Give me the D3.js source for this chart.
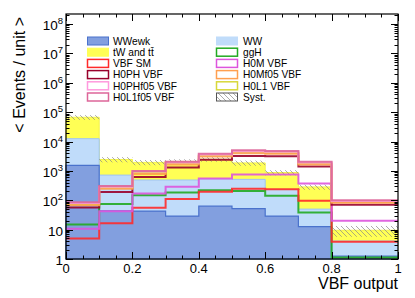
<!DOCTYPE html>
<html>
<head>
<meta charset="utf-8">
<script src="https://cdn.jsdelivr.net/npm/d3@7"></script>
<style>
  body { margin: 0; background: #fff; }
  svg { display: block; font-family: "Liberation Sans", Arial, sans-serif; }
</style>
</head>
<body>
<svg id="chart" width="415" height="298"></svg>
<script>
// bin edges of the VBF output
var edges = [0, 0.1, 0.2, 0.3, 0.4, 0.5, 0.6, 0.7, 0.8, 1.0];

// backgrounds (stacked, per bin)
var wwewk = [1550, 44, 43, 29, 63, 52, 29, 12.6, 1.26];
var ww = [10950, 676, 447, 461, 467, 463, 206, 37.4, 2.85];
var twtt = [54500, 1730, 1460, 1610, 1970, 1355, 645, 235, 5.4];
var syst = [0.18, 0.2, 0.2, 0.18, 0.18, 0.2, 0.2, 0.2, 0.4];

// signals (overlaid)
var vbfSM = [5.0, 16.4, 56, 111, 195, 245, 235, 96, 3.9];
var ggH = [15, 74, 148, 185, 220, 205, 142, 38, 1.12];
var h0m = [10.7, 42, 170, 290, 555, 760, 760, 375, 20];
var h0ph = [57, 190, 620, 1300, 2400, 3200, 3150, 1400, 71];
var h0l1 = [72, 265, 850, 1780, 3300, 4300, 4100, 1800, 88];
var h0mf05 = [67, 245, 780, 1650, 3100, 4000, 3800, 1650, 82];
var h0phf05 = [80, 290, 950, 1950, 3600, 4700, 4500, 1950, 95];
var h0l1f05 = [85, 305, 1000, 2050, 3800, 5000, 4800, 2050, 100];

var xTicks = [0, 0.2, 0.4, 0.6, 0.8, 1];
var xTickLabels = ["0", "0.2", "0.4", "0.6", "0.8", "1"];
var yDecades = [1, 10, 100, 1e3, 1e4, 1e5, 1e6, 1e7, 1e8];

var legendLeft = [
  { name: "WWewk", fill: "#829fdf", stroke: "#4a72cc" },
  { name: "tW and t\u0074\u0304", fill: "#ffff55", stroke: "#ffff55" },
  { name: "VBF SM", fill: "none", stroke: "#ff2a2a" },
  { name: "H0PH VBF", fill: "none", stroke: "#99002b" },
  { name: "H0PHf05 VBF", fill: "none", stroke: "#ff99dd" },
  { name: "H0L1f05 VBF", fill: "none", stroke: "#dd6699" }
];
var legendRight = [
  { name: "WW", fill: "#c0dcfa", stroke: "#c0dcfa" },
  { name: "ggH", fill: "none", stroke: "#22aa22" },
  { name: "H0M VBF", fill: "none", stroke: "#dd55dd" },
  { name: "H0Mf05 VBF", fill: "none", stroke: "#ffa050" },
  { name: "H0L1 VBF", fill: "none", stroke: "#d8d83a" },
  { name: "Syst.", fill: "url(#hatch)", stroke: "#555" }
];

var svg = d3.select("#chart");
var L = 66, R = 398, T = 14, B = 259;

var x = d3.scaleLinear().domain([0, 1]).range([L, R]);
var y = d3.scaleLog().domain([1, 2.2e8]).range([B, T]);

var defs = svg.append("defs");
var pat = defs.append("pattern")
  .attr("id", "hatch")
  .attr("patternUnits", "userSpaceOnUse")
  .attr("width", 5).attr("height", 5);
pat.append("path")
  .attr("d", "M-1,-1 L6,6 M-1,4 L1,6 M4,-1 L6,1")
  .attr("stroke", "#888").attr("stroke-width", 0.7);

function stepData(vals) {
  var d = vals.map(function(v, i) { return [edges[i], v]; });
  d.push([edges[edges.length - 1], vals[vals.length - 1]]);
  return d;
}

function cumulate(a, b) {
  return a.map(function(v, i) { return v + b[i]; });
}

var area = d3.area()
  .x(function(d) { return x(d[0]); })
  .y0(y(1))
  .y1(function(d) { return y(d[1]); })
  .curve(d3.curveStepAfter);

var line = d3.line()
  .x(function(d) { return x(d[0]); })
  .y(function(d) { return y(d[1]); })
  .curve(d3.curveStepAfter);

var stackWW = cumulate(wwewk, ww);
var stackTot = cumulate(stackWW, twtt);

var g = svg.append("g");

// stacked backgrounds, top first
g.append("path").attr("d", area(stepData(stackTot))).attr("fill", "#ffff55").attr("stroke", "#f2f24a").attr("stroke-width", 1);
g.append("path").attr("d", area(stepData(stackWW))).attr("fill", "#c0dcfa").attr("stroke", "#9fc4ee").attr("stroke-width", 1);
g.append("path").attr("d", area(stepData(wwewk))).attr("fill", "#829fdf").attr("stroke", "#4a72cc").attr("stroke-width", 1.2);

// systematic band
g.selectAll(".syst")
  .data(stackTot)
  .enter()
  .append("rect")
  .attr("class", "syst")
  .attr("x", function(d, i) { return x(edges[i]); })
  .attr("width", function(d, i) { return x(edges[i + 1]) - x(edges[i]); })
  .attr("y", function(d, i) { return y(d * (1 + syst[i])); })
  .attr("height", function(d, i) { return y(d * (1 - syst[i])) - y(d * (1 + syst[i])); })
  .attr("fill", "url(#hatch)");

var signals = [
  { vals: ggH, color: "#22aa22" },
  { vals: vbfSM, color: "#ff2a2a" },
  { vals: h0m, color: "#dd55dd" },
  { vals: h0ph, color: "#99002b" },
  { vals: h0l1, color: "#d8d83a" },
  { vals: h0mf05, color: "#ffa050" },
  { vals: h0phf05, color: "#ff99dd" },
  { vals: h0l1f05, color: "#dd6699" }
];

signals.forEach(function(s) {
  g.append("path")
    .attr("d", line(stepData(s.vals)))
    .attr("fill", "none")
    .attr("stroke", s.color)
    .attr("stroke-width", 2)
    .attr("stroke-opacity", 0.9);
});

// axes: ticks drawn inward on all four sides
var ax = svg.append("g").attr("stroke", "#000").attr("stroke-width", 1);
d3.range(0, 1.0001, 0.05).forEach(function(v) {
  var major = Math.abs(v / 0.2 - Math.round(v / 0.2)) < 1e-6;
  var len = major ? 7 : 3.5;
  var xx = Math.round(x(v)) + 0.5;
  ax.append("line").attr("x1", xx).attr("x2", xx).attr("y1", B).attr("y2", B - len);
  ax.append("line").attr("x1", xx).attr("x2", xx).attr("y1", T).attr("y2", T + len);
});
yDecades.forEach(function(dec, k) {
  for (var m = 1; m <= 9; m++) {
    var v = dec * m;
    if (v > 2.2e8) break;
    var len = m === 1 ? 7 : 3.5;
    var yy = Math.round(y(v)) + 0.5;
    ax.append("line").attr("x1", L).attr("x2", L + len).attr("y1", yy).attr("y2", yy);
    ax.append("line").attr("x1", R).attr("x2", R - len).attr("y1", yy).attr("y2", yy);
  }
});
svg.append("rect")
  .attr("x", L).attr("y", T).attr("width", R - L).attr("height", B - T)
  .attr("fill", "none").attr("stroke", "#000").attr("stroke-width", 1.2);

// tick labels
svg.selectAll(".xl")
  .data(xTicks)
  .enter()
  .append("text")
  .attr("x", function(d) { return x(d); })
  .attr("y", 273)
  .attr("text-anchor", "middle")
  .attr("font-size", 13)
  .text(function(d, i) { return xTickLabels[i]; });

yDecades.forEach(function(dec, k) {
  var t = svg.append("text")
    .attr("x", 63)
    .attr("y", y(dec) + 6)
    .attr("text-anchor", "end")
    .attr("font-size", 13.5);
  if (k === 0) t.text("1");
  else if (k === 1) t.text("10");
  else {
    t.append("tspan").text("10");
    t.append("tspan").attr("font-size", 9.5).attr("dy", -6).text(k);
  }
});

svg.append("text")
  .attr("x", 398).attr("y", 289)
  .attr("text-anchor", "end")
  .attr("font-size", 16)
  .text("VBF output");

svg.append("text")
  .attr("transform", "translate(25,17) rotate(-90)")
  .attr("text-anchor", "end")
  .attr("font-size", 16)
  .text("< Events / unit >");

// legend
function drawLegend(items, sx, tx) {
  items.forEach(function(it, i) {
    var cy = 41 + i * 11.2;
    var lineEntry = it.fill === "none";
    svg.append("rect")
      .attr("x", sx).attr("y", cy - 4)
      .attr("width", 21).attr("height", 8)
      .attr("fill", lineEntry ? "#fff" : it.fill)
      .attr("stroke", it.stroke)
      .attr("stroke-width", lineEntry ? 1.5 : 1);
    svg.append("text")
      .attr("x", tx).attr("y", cy + 3.7)
      .attr("font-size", 10.2)
      .text(it.name);
  });
}
drawLegend(legendLeft, 87.5, 113);
drawLegend(legendRight, 216.5, 243);
</script>
</body>
</html>
